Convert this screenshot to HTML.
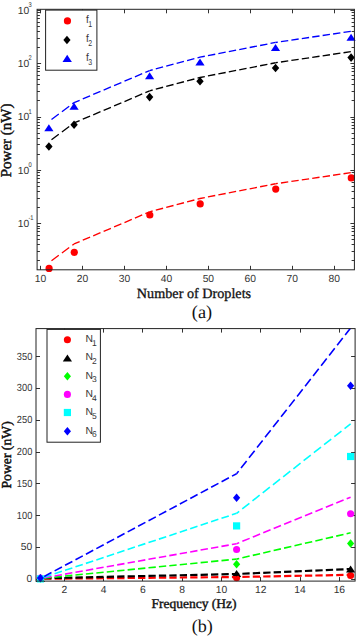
<!DOCTYPE html>
<html><head><meta charset="utf-8"><style>
html,body{margin:0;padding:0;background:#fff;width:357px;height:636px;overflow:hidden}
svg{display:block;text-rendering:geometricPrecision;-webkit-font-smoothing:antialiased}
</style></head><body>
<svg width="357" height="636" viewBox="0 0 357 636">
<rect x="0" y="0" width="357" height="636" fill="#fff"/>
<path d="M37.1,260.50h2.8M354.4,260.50h-2.8M37.1,251.50h2.8M354.4,251.50h-2.8M37.1,244.50h2.8M354.4,244.50h-2.8M37.1,239.50h2.8M354.4,239.50h-2.8M37.1,235.50h2.8M354.4,235.50h-2.8M37.1,231.50h2.8M354.4,231.50h-2.8M37.1,228.50h2.8M354.4,228.50h-2.8M37.1,226.50h2.8M354.4,226.50h-2.8M37.1,223.50h4M354.4,223.50h-4M37.1,207.50h2.8M354.4,207.50h-2.8M37.1,198.50h2.8M354.4,198.50h-2.8M37.1,191.50h2.8M354.4,191.50h-2.8M37.1,186.50h2.8M354.4,186.50h-2.8M37.1,182.50h2.8M354.4,182.50h-2.8M37.1,178.50h2.8M354.4,178.50h-2.8M37.1,175.50h2.8M354.4,175.50h-2.8M37.1,172.50h2.8M354.4,172.50h-2.8M37.1,170.50h4M354.4,170.50h-4M37.1,154.50h2.8M354.4,154.50h-2.8M37.1,144.50h2.8M354.4,144.50h-2.8M37.1,138.50h2.8M354.4,138.50h-2.8M37.1,133.50h2.8M354.4,133.50h-2.8M37.1,128.50h2.8M354.4,128.50h-2.8M37.1,125.50h2.8M354.4,125.50h-2.8M37.1,122.50h2.8M354.4,122.50h-2.8M37.1,119.50h2.8M354.4,119.50h-2.8M37.1,117.50h4M354.4,117.50h-4M37.1,100.50h2.8M354.4,100.50h-2.8M37.1,91.50h2.8M354.4,91.50h-2.8M37.1,84.50h2.8M354.4,84.50h-2.8M37.1,79.50h2.8M354.4,79.50h-2.8M37.1,75.50h2.8M354.4,75.50h-2.8M37.1,71.50h2.8M354.4,71.50h-2.8M37.1,68.50h2.8M354.4,68.50h-2.8M37.1,66.50h2.8M354.4,66.50h-2.8M37.1,63.50h4M354.4,63.50h-4M37.1,47.50h2.8M354.4,47.50h-2.8M37.1,38.50h2.8M354.4,38.50h-2.8M37.1,31.50h2.8M354.4,31.50h-2.8M37.1,26.50h2.8M354.4,26.50h-2.8M37.1,22.50h2.8M354.4,22.50h-2.8M37.1,18.50h2.8M354.4,18.50h-2.8M37.1,15.50h2.8M354.4,15.50h-2.8M37.1,12.50h2.8M354.4,12.50h-2.8M37.1,10.50h4M354.4,10.50h-4M40.50,269.8v-4M40.50,9.3v4M82.50,269.8v-4M82.50,9.3v4M124.50,269.8v-4M124.50,9.3v4M166.50,269.8v-4M166.50,9.3v4M208.50,269.8v-4M208.50,9.3v4M250.50,269.8v-4M250.50,9.3v4M292.50,269.8v-4M292.50,9.3v4M334.50,269.8v-4M334.50,9.3v4" stroke="#333" stroke-width="1" fill="none"/>
<clipPath id="c1"><rect x="37.1" y="9.3" width="317.29999999999995" height="260.5"/></clipPath>
<g clip-path="url(#c1)"><line x1="48.89" y1="262.69" x2="74.08" y2="243.92" stroke="#f00" stroke-width="1.35" stroke-dasharray="9.10,3.90" stroke-dashoffset="9.75"/><line x1="74.08" y1="243.92" x2="149.62" y2="211.83" stroke="#f00" stroke-width="1.35" stroke-dasharray="7.93,3.40" stroke-dashoffset="1.88"/><line x1="149.62" y1="211.83" x2="199.99" y2="198.51" stroke="#f00" stroke-width="1.35" stroke-dasharray="7.55,3.24" stroke-dashoffset="4.41"/><line x1="199.99" y1="198.51" x2="275.53" y2="183.76" stroke="#f00" stroke-width="1.35" stroke-dasharray="7.44,3.19" stroke-dashoffset="2.53"/><line x1="275.53" y1="183.76" x2="351.08" y2="172.60" stroke="#f00" stroke-width="1.35" stroke-dasharray="7.38,3.16" stroke-dashoffset="5.07"/></g>
<g clip-path="url(#c1)"><line x1="48.89" y1="141.69" x2="74.08" y2="122.92" stroke="#000" stroke-width="1.35" stroke-dasharray="9.10,3.90" stroke-dashoffset="9.75"/><line x1="74.08" y1="122.92" x2="149.62" y2="90.83" stroke="#000" stroke-width="1.35" stroke-dasharray="7.93,3.40" stroke-dashoffset="1.88"/><line x1="149.62" y1="90.83" x2="199.99" y2="77.51" stroke="#000" stroke-width="1.35" stroke-dasharray="7.55,3.24" stroke-dashoffset="4.41"/><line x1="199.99" y1="77.51" x2="275.53" y2="62.76" stroke="#000" stroke-width="1.35" stroke-dasharray="7.44,3.19" stroke-dashoffset="2.53"/><line x1="275.53" y1="62.76" x2="351.08" y2="51.60" stroke="#000" stroke-width="1.35" stroke-dasharray="7.38,3.16" stroke-dashoffset="5.07"/></g>
<g clip-path="url(#c1)"><line x1="48.89" y1="121.39" x2="74.08" y2="102.62" stroke="#00f" stroke-width="1.35" stroke-dasharray="9.10,3.90" stroke-dashoffset="9.75"/><line x1="74.08" y1="102.62" x2="149.62" y2="70.53" stroke="#00f" stroke-width="1.35" stroke-dasharray="7.93,3.40" stroke-dashoffset="1.88"/><line x1="149.62" y1="70.53" x2="199.99" y2="57.21" stroke="#00f" stroke-width="1.35" stroke-dasharray="7.55,3.24" stroke-dashoffset="4.41"/><line x1="199.99" y1="57.21" x2="275.53" y2="42.46" stroke="#00f" stroke-width="1.35" stroke-dasharray="7.44,3.19" stroke-dashoffset="2.53"/><line x1="275.53" y1="42.46" x2="351.08" y2="31.30" stroke="#00f" stroke-width="1.35" stroke-dasharray="7.38,3.16" stroke-dashoffset="5.07"/></g>
<circle cx="49.09" cy="268.40" r="3.6" fill="#f00"/>
<circle cx="74.28" cy="252.30" r="3.6" fill="#f00"/>
<circle cx="149.82" cy="215.00" r="3.6" fill="#f00"/>
<circle cx="200.19" cy="203.90" r="3.6" fill="#f00"/>
<circle cx="275.73" cy="189.10" r="3.6" fill="#f00"/>
<circle cx="351.28" cy="177.90" r="3.6" fill="#f00"/>
<path d="M48.89,142.15L52.59,146.45L48.89,150.75L45.19,146.45Z" fill="#000"/>
<path d="M74.08,120.50L77.78,124.80L74.08,129.10L70.38,124.80Z" fill="#000"/>
<path d="M149.62,92.80L153.32,97.10L149.62,101.40L145.92,97.10Z" fill="#000"/>
<path d="M199.99,76.90L203.69,81.20L199.99,85.50L196.29,81.20Z" fill="#000"/>
<path d="M275.53,63.70L279.23,68.00L275.53,72.30L271.83,68.00Z" fill="#000"/>
<path d="M351.08,53.30L354.78,57.60L351.08,61.90L347.38,57.60Z" fill="#000"/>
<path d="M48.89,124.15L53.49,131.15L44.29,131.15Z" fill="#00f"/>
<path d="M74.08,102.80L78.68,109.80L69.48,109.80Z" fill="#00f"/>
<path d="M149.62,72.30L154.22,79.30L145.02,79.30Z" fill="#00f"/>
<path d="M199.99,58.50L204.59,65.50L195.39,65.50Z" fill="#00f"/>
<path d="M275.53,44.00L280.13,51.00L270.93,51.00Z" fill="#00f"/>
<path d="M351.08,33.70L355.68,40.70L346.48,40.70Z" fill="#00f"/>
<rect x="37.1" y="9.3" width="317.29999999999995" height="260.5" fill="none" stroke="#222" stroke-width="1"/>
<rect x="45.6" y="10.1" width="51.3" height="60.1" fill="#fff" stroke="#222" stroke-width="1"/>
<circle cx="67.45" cy="20.95" r="3.6" fill="#f00"/>
<path d="M66.95,35.75L70.55,39.95L66.95,44.15L63.35,39.95Z" fill="#000"/>
<path d="M67.20,54.70L71.90,61.90L62.50,61.90Z" fill="#00f"/>
<text transform="translate(85.9,22.8) scale(0.9,1)" font-family="Liberation Sans, sans-serif" font-size="11" fill="#333">f</text>
<text transform="translate(88.2,27.10) scale(0.82,1)" font-family="Liberation Sans, sans-serif" font-size="8.5" fill="#333">1</text>
<text transform="translate(85.9,41.9) scale(0.9,1)" font-family="Liberation Sans, sans-serif" font-size="11" fill="#333">f</text>
<text transform="translate(88.2,46.20) scale(0.82,1)" font-family="Liberation Sans, sans-serif" font-size="8.5" fill="#333">2</text>
<text transform="translate(85.9,60.9) scale(0.9,1)" font-family="Liberation Sans, sans-serif" font-size="11" fill="#333">f</text>
<text transform="translate(88.2,65.20) scale(0.82,1)" font-family="Liberation Sans, sans-serif" font-size="8.5" fill="#333">3</text>
<text x="29.2" y="227.00" font-family="Liberation Sans, sans-serif" font-size="10.3" fill="#333" text-anchor="end">10</text>
<text transform="translate(28.4,220.30) scale(0.85,1)" font-family="Liberation Sans, sans-serif" font-size="6.8" fill="#333">-1</text>
<text x="29.2" y="173.70" font-family="Liberation Sans, sans-serif" font-size="10.3" fill="#333" text-anchor="end">10</text>
<text transform="translate(28.4,167.00) scale(0.85,1)" font-family="Liberation Sans, sans-serif" font-size="6.8" fill="#333">0</text>
<text x="29.2" y="120.40" font-family="Liberation Sans, sans-serif" font-size="10.3" fill="#333" text-anchor="end">10</text>
<text transform="translate(28.4,113.70) scale(0.85,1)" font-family="Liberation Sans, sans-serif" font-size="6.8" fill="#333">1</text>
<text x="29.2" y="67.10" font-family="Liberation Sans, sans-serif" font-size="10.3" fill="#333" text-anchor="end">10</text>
<text transform="translate(28.4,60.40) scale(0.85,1)" font-family="Liberation Sans, sans-serif" font-size="6.8" fill="#333">2</text>
<text x="29.2" y="13.80" font-family="Liberation Sans, sans-serif" font-size="10.3" fill="#333" text-anchor="end">10</text>
<text transform="translate(28.4,7.10) scale(0.85,1)" font-family="Liberation Sans, sans-serif" font-size="6.8" fill="#333">3</text>
<text x="40.50" y="281.8" font-family="Liberation Sans, sans-serif" font-size="10.3" fill="#333" text-anchor="middle">10</text>
<text x="82.47" y="281.8" font-family="Liberation Sans, sans-serif" font-size="10.3" fill="#333" text-anchor="middle">20</text>
<text x="124.44" y="281.8" font-family="Liberation Sans, sans-serif" font-size="10.3" fill="#333" text-anchor="middle">30</text>
<text x="166.41" y="281.8" font-family="Liberation Sans, sans-serif" font-size="10.3" fill="#333" text-anchor="middle">40</text>
<text x="208.38" y="281.8" font-family="Liberation Sans, sans-serif" font-size="10.3" fill="#333" text-anchor="middle">50</text>
<text x="250.35" y="281.8" font-family="Liberation Sans, sans-serif" font-size="10.3" fill="#333" text-anchor="middle">60</text>
<text x="292.32" y="281.8" font-family="Liberation Sans, sans-serif" font-size="10.3" fill="#333" text-anchor="middle">70</text>
<text x="334.29" y="281.8" font-family="Liberation Sans, sans-serif" font-size="10.3" fill="#333" text-anchor="middle">80</text>
<text x="194" y="297.5" font-family="Liberation Serif, serif" font-size="14.2" fill="#111" stroke="#111" stroke-width="0.3" text-anchor="middle">Number of Droplets</text>
<text x="202" y="317.8" font-family="Liberation Serif, serif" font-size="18.3" fill="#111" text-anchor="middle">(a)</text>
<text transform="translate(11.1,140.4) rotate(-90)" font-family="Liberation Serif, serif" font-size="15" fill="#111" stroke="#111" stroke-width="0.45" text-anchor="middle">Power (nW)</text>
<clipPath id="c2"><rect x="36.0" y="328.6" width="319.1" height="252.5"/></clipPath>
<path d="M36.0,579.50h4M355.1,579.50h-4M36.0,547.50h4M355.1,547.50h-4M36.0,515.50h4M355.1,515.50h-4M36.0,483.50h4M355.1,483.50h-4M36.0,452.50h4M355.1,452.50h-4M36.0,420.50h4M355.1,420.50h-4M36.0,388.50h4M355.1,388.50h-4M36.0,356.50h4M355.1,356.50h-4M64.50,581.1v-4M64.50,328.6v4M103.50,581.1v-4M103.50,328.6v4M142.50,581.1v-4M142.50,328.6v4M182.50,581.1v-4M182.50,328.6v4M221.50,581.1v-4M221.50,328.6v4M260.50,581.1v-4M260.50,328.6v4M300.50,581.1v-4M300.50,328.6v4M339.50,581.1v-4M339.50,328.6v4" stroke="#333" stroke-width="1" fill="none"/>
<circle cx="236.60" cy="577.80" r="3.55" fill="#f00"/>
<circle cx="350.60" cy="575.50" r="3.55" fill="#f00"/>
<path d="M236.60,569.90L241.20,576.90L232.00,576.90Z" fill="#000"/>
<path d="M350.60,565.50L355.20,572.50L346.00,572.50Z" fill="#000"/>
<path d="M236.60,560.00L240.20,564.20L236.60,568.40L233.00,564.20Z" fill="#0f0"/>
<path d="M350.60,539.30L354.20,543.50L350.60,547.70L347.00,543.50Z" fill="#0f0"/>
<circle cx="236.60" cy="549.50" r="3.55" fill="#f0f"/>
<circle cx="350.60" cy="513.70" r="3.55" fill="#f0f"/>
<rect x="233.00" y="522.30" width="7.2" height="7.2" fill="#0ff"/>
<rect x="347.00" y="452.90" width="7.2" height="7.2" fill="#0ff"/>
<path d="M236.60,493.50L240.20,497.70L236.60,501.90L233.00,497.70Z" fill="#00f"/>
<path d="M350.60,381.60L354.20,385.80L350.60,390.00L347.00,385.80Z" fill="#00f"/>
<g clip-path="url(#c2)"><line x1="40.40" y1="578.80" x2="236.60" y2="577.00" stroke="#f00" stroke-width="2.2" stroke-dasharray="7.30,3.13" stroke-dashoffset="6.64"/><line x1="236.60" y1="577.00" x2="350.60" y2="574.80" stroke="#f00" stroke-width="2.2" stroke-dasharray="7.30,3.13" stroke-dashoffset="4.67"/></g>
<g clip-path="url(#c2)"><line x1="40.40" y1="578.30" x2="236.60" y2="574.00" stroke="#000" stroke-width="2.2" stroke-dasharray="7.30,3.13" stroke-dashoffset="6.65"/><line x1="236.60" y1="574.00" x2="350.60" y2="569.00" stroke="#000" stroke-width="2.2" stroke-dasharray="7.31,3.13" stroke-dashoffset="4.68"/></g>
<g clip-path="url(#c2)"><line x1="40.40" y1="578.50" x2="236.60" y2="559.10" stroke="#0f0" stroke-width="1.6" stroke-dasharray="7.34,3.14" stroke-dashoffset="6.68"/><line x1="236.60" y1="559.10" x2="350.60" y2="532.80" stroke="#0f0" stroke-width="1.6" stroke-dasharray="7.49,3.21" stroke-dashoffset="4.80"/></g>
<g clip-path="url(#c2)"><line x1="40.40" y1="578.50" x2="236.60" y2="543.70" stroke="#f0f" stroke-width="1.6" stroke-dasharray="7.41,3.18" stroke-dashoffset="6.75"/><line x1="236.60" y1="543.70" x2="350.60" y2="497.20" stroke="#f0f" stroke-width="1.6" stroke-dasharray="7.89,3.38" stroke-dashoffset="5.05"/></g>
<g clip-path="url(#c2)"><line x1="40.40" y1="578.50" x2="236.60" y2="513.30" stroke="#0ff" stroke-width="1.6" stroke-dasharray="7.69,3.30" stroke-dashoffset="7.00"/><line x1="236.60" y1="513.30" x2="350.60" y2="423.90" stroke="#0ff" stroke-width="1.6" stroke-dasharray="9.10,3.90" stroke-dashoffset="5.83"/></g>
<g clip-path="url(#c2)"><line x1="40.40" y1="578.50" x2="236.60" y2="473.70" stroke="#00f" stroke-width="1.6" stroke-dasharray="8.28,3.55" stroke-dashoffset="7.53"/><line x1="236.60" y1="473.70" x2="350.60" y2="328.00" stroke="#00f" stroke-width="1.6" stroke-dasharray="9.10,3.90" stroke-dashoffset="5.83"/></g>
<circle cx="40.40" cy="578.50" r="3.55" fill="#f00"/>
<path d="M40.40,575.00L45.00,582.00L35.80,582.00Z" fill="#000"/>
<path d="M40.40,574.30L44.00,578.50L40.40,582.70L36.80,578.50Z" fill="#0f0"/>
<circle cx="40.40" cy="578.00" r="3.55" fill="#f0f"/>
<rect x="36.80" y="575.30" width="7.2" height="7.2" fill="#0ff"/>
<path d="M40.40,573.90L44.00,578.10L40.40,582.30L36.80,578.10Z" fill="#00f"/>
<rect x="36.0" y="328.6" width="319.1" height="252.5" fill="none" stroke="#222" stroke-width="1"/>
<rect x="47" y="329.4" width="53.4" height="112.8" fill="#fff" stroke="#222" stroke-width="1"/>
<circle cx="67.40" cy="339.75" r="3.55" fill="#f00"/>
<path d="M67.40,354.40L72.00,361.40L62.80,361.40Z" fill="#000"/>
<path d="M67.40,372.00L71.00,376.20L67.40,380.40L63.80,376.20Z" fill="#0f0"/>
<circle cx="67.40" cy="394.40" r="3.55" fill="#f0f"/>
<rect x="63.80" y="408.90" width="7.2" height="7.2" fill="#0ff"/>
<path d="M67.40,427.00L71.00,431.20L67.40,435.40L63.80,431.20Z" fill="#00f"/>
<text x="85.4" y="342.05" font-family="Liberation Sans, sans-serif" font-size="10.3" fill="#333">N</text>
<text x="92.1" y="345.85" font-family="Liberation Sans, sans-serif" font-size="8.5" fill="#333">1</text>
<text x="85.4" y="360.20" font-family="Liberation Sans, sans-serif" font-size="10.3" fill="#333">N</text>
<text x="92.1" y="364.00" font-family="Liberation Sans, sans-serif" font-size="8.5" fill="#333">2</text>
<text x="85.4" y="378.50" font-family="Liberation Sans, sans-serif" font-size="10.3" fill="#333">N</text>
<text x="92.1" y="382.30" font-family="Liberation Sans, sans-serif" font-size="8.5" fill="#333">3</text>
<text x="85.4" y="396.70" font-family="Liberation Sans, sans-serif" font-size="10.3" fill="#333">N</text>
<text x="92.1" y="400.50" font-family="Liberation Sans, sans-serif" font-size="8.5" fill="#333">4</text>
<text x="85.4" y="414.80" font-family="Liberation Sans, sans-serif" font-size="10.3" fill="#333">N</text>
<text x="92.1" y="418.60" font-family="Liberation Sans, sans-serif" font-size="8.5" fill="#333">5</text>
<text x="85.4" y="433.50" font-family="Liberation Sans, sans-serif" font-size="10.3" fill="#333">N</text>
<text x="92.1" y="437.30" font-family="Liberation Sans, sans-serif" font-size="8.5" fill="#333">6</text>
<text transform="translate(32.3,582.20) scale(1.0,1)" font-family="Liberation Sans, sans-serif" font-size="10.3" fill="#333" text-anchor="end">0</text>
<text transform="translate(32.3,550.42) scale(1.0,1)" font-family="Liberation Sans, sans-serif" font-size="10.3" fill="#333" text-anchor="end">50</text>
<text transform="translate(32.3,518.63) scale(0.9,1)" font-family="Liberation Sans, sans-serif" font-size="10.3" fill="#333" text-anchor="end">100</text>
<text transform="translate(32.3,486.85) scale(0.9,1)" font-family="Liberation Sans, sans-serif" font-size="10.3" fill="#333" text-anchor="end">150</text>
<text transform="translate(32.3,455.06) scale(0.9,1)" font-family="Liberation Sans, sans-serif" font-size="10.3" fill="#333" text-anchor="end">200</text>
<text transform="translate(32.3,423.28) scale(0.9,1)" font-family="Liberation Sans, sans-serif" font-size="10.3" fill="#333" text-anchor="end">250</text>
<text transform="translate(32.3,391.49) scale(0.9,1)" font-family="Liberation Sans, sans-serif" font-size="10.3" fill="#333" text-anchor="end">300</text>
<text transform="translate(32.3,359.71) scale(0.9,1)" font-family="Liberation Sans, sans-serif" font-size="10.3" fill="#333" text-anchor="end">350</text>
<text x="64.40" y="593" font-family="Liberation Sans, sans-serif" font-size="10.3" fill="#333" text-anchor="middle">2</text>
<text x="103.68" y="593" font-family="Liberation Sans, sans-serif" font-size="10.3" fill="#333" text-anchor="middle">4</text>
<text x="142.96" y="593" font-family="Liberation Sans, sans-serif" font-size="10.3" fill="#333" text-anchor="middle">6</text>
<text x="182.24" y="593" font-family="Liberation Sans, sans-serif" font-size="10.3" fill="#333" text-anchor="middle">8</text>
<text x="221.52" y="593" font-family="Liberation Sans, sans-serif" font-size="10.3" fill="#333" text-anchor="middle">10</text>
<text x="260.80" y="593" font-family="Liberation Sans, sans-serif" font-size="10.3" fill="#333" text-anchor="middle">12</text>
<text x="300.08" y="593" font-family="Liberation Sans, sans-serif" font-size="10.3" fill="#333" text-anchor="middle">14</text>
<text x="339.36" y="593" font-family="Liberation Sans, sans-serif" font-size="10.3" fill="#333" text-anchor="middle">16</text>
<text x="194" y="608.3" font-family="Liberation Serif, serif" font-size="13.5" fill="#111" stroke="#111" stroke-width="0.4" text-anchor="middle">Frequency (Hz)</text>
<text x="202.3" y="632" font-family="Liberation Serif, serif" font-size="18" fill="#111" text-anchor="middle">(b)</text>
<text transform="translate(10.5,454.9) rotate(-90)" font-family="Liberation Serif, serif" font-size="13.7" fill="#111" stroke="#111" stroke-width="0.45" text-anchor="middle">Power (nW)</text>
</svg>
</body></html>
